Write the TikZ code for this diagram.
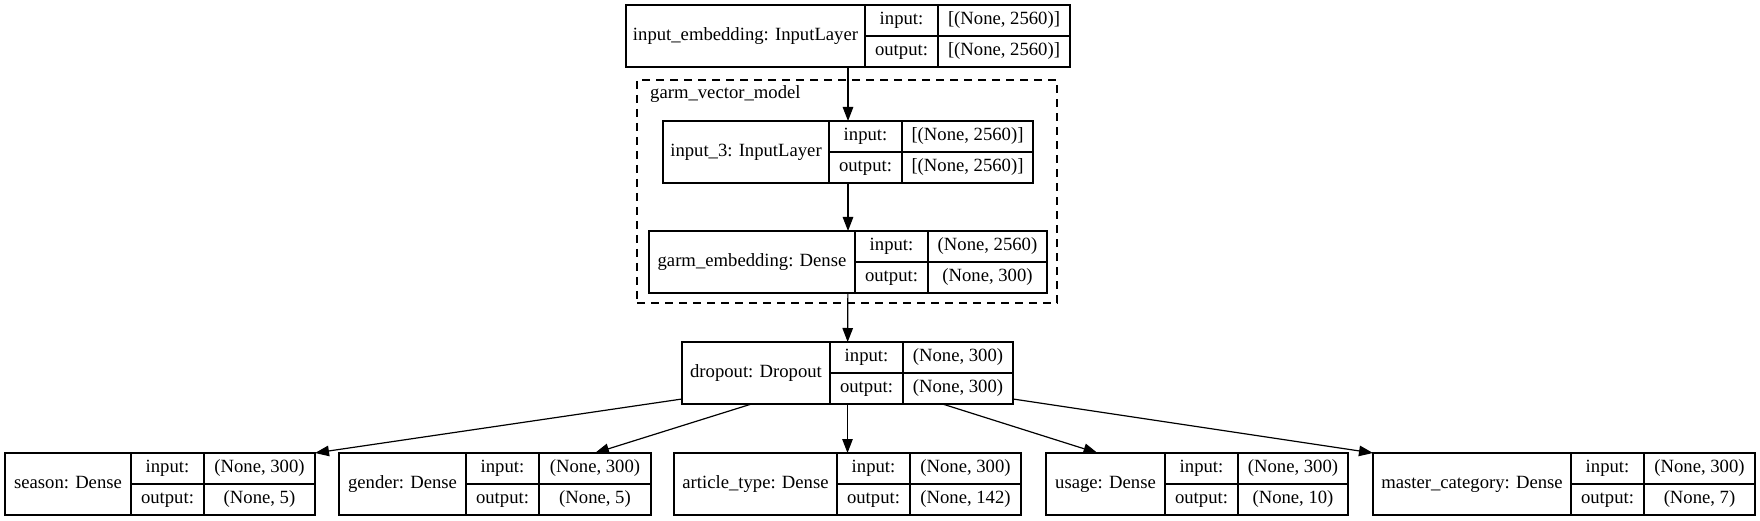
\documentclass[tikz,border=0pt]{standalone}
\usepackage{fontspec}
\setmainfont{Liberation Serif}
\usepackage{tikz}
\usetikzlibrary{calc, positioning, arrows.meta, fit}
\tikzset{
    cell/.style={rectangle, draw=black, line width=1.2pt, inner sep=0pt, outer sep=0pt, align=center, text height=13pt, text depth=4.5pt, font=\fontsize{18.67}{22}\selectfont},
    namecell/.style={cell, minimum height=62pt},
    portcell/.style={cell, minimum width=73pt, minimum height=31pt},
    valcell/.style={cell, minimum height=31pt},
    layerbox/.style={fit=#1, inner sep=0pt, outer sep=0pt},
    cluster/.style={rectangle, draw=black, line width=1.2pt, dash pattern=on 8pt off 6pt, inner sep=0pt, outer sep=0pt},
    clusterlabel/.style={font=\fontsize{18.67}{22}\selectfont, inner sep=0pt, anchor=west},
    arrow/.style={-{Triangle[length=14pt, width=10.5pt]}, line width=1.2pt}
}
% id, left, top, name, name width, value width, input, output
\newcommand{\kerasLayer}[8]{%
    \node[namecell, minimum width=#5pt, anchor=north west] (#1-name) at (#2,#3) {#4};
    \node[portcell, anchor=north west] (#1-inl) at (#1-name.north east) {input:};
    \node[portcell, anchor=north west] (#1-outl) at (#1-inl.south west) {output:};
    \node[valcell, minimum width=#6pt, anchor=north west] (#1-inv) at (#1-inl.north east) {#7};
    \node[valcell, minimum width=#6pt, anchor=north west] (#1-outv) at (#1-outl.north east) {#8};
    \node[layerbox={(#1-name)(#1-outv)}] (#1) {};
}

\begin{document}
\begin{tikzpicture}[x=1pt, y=1pt]
        \useasboundingbox (0,0) rectangle (1760,520);

        % Sub-model cluster
        \node[cluster, minimum width=420pt, minimum height=223pt, anchor=north west] (vecmodel) at (637,440) {};
        \node[clusterlabel] (vecmodel-label) at ($(vecmodel.north west)+(13,-14)$) {garm\_vector\_model};

        % Layers
        \kerasLayer{emb}{626}{515}{input\_embedding: InputLayer}{239}{132}{[(None, 2560)]}{[(None, 2560)]}
        \kerasLayer{inthree}{663}{399}{input\_3: InputLayer}{166}{131}{[(None, 2560)]}{[(None, 2560)]}
        \kerasLayer{garm}{649}{289}{garm\_embedding: Dense}{206}{119}{(None, 2560)}{(None, 300)}
        \kerasLayer{drop}{682}{178}{dropout: Dropout}{148}{110}{(None, 300)}{(None, 300)}

        % Output heads
        \kerasLayer{season}{5}{67}{season: Dense}{126}{111}{(None, 300)}{(None, 5)}
        \kerasLayer{gender}{339}{67}{gender: Dense}{127}{112}{(None, 300)}{(None, 5)}
        \kerasLayer{article}{674}{67}{article\_type: Dense}{163}{111}{(None, 300)}{(None, 142)}
        \kerasLayer{usage}{1046}{67}{usage: Dense}{119}{110}{(None, 300)}{(None, 10)}
        \kerasLayer{master}{1373}{67}{master\_category: Dense}{198}{111}{(None, 300)}{(None, 7)}

        % Connections
        \draw[arrow] (emb) -- (inthree);
        \draw[arrow] (inthree) -- (garm);
        \draw[arrow] (garm) -- (drop);
        \draw[arrow] ($(drop.south west)+(0,5)$) -- (season-inv.north east);
        \draw[arrow] ($(drop.south)+(-96,0)$) -- (gender-inv.north);
        \draw[arrow] (drop) -- (article);
        \draw[arrow] ($(drop.south)+(95,0)$) -- ($(usage-name.north)+(-8,0)$);
        \draw[arrow] ($(drop.south east)+(0,5)$) -- (master-name.north west);
    \end{tikzpicture}
\end{document}
